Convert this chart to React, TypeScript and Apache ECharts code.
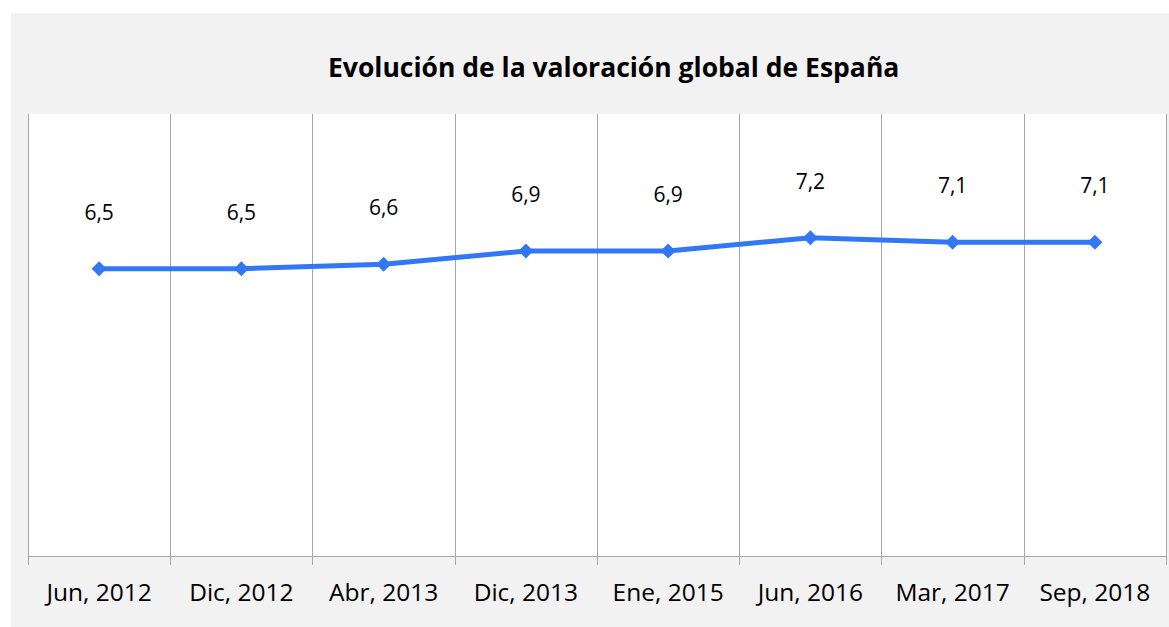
import React, { useEffect, useRef } from "react";
import * as echarts from "echarts";

const categories = ["Jun, 2012", "Dic, 2012", "Abr, 2013", "Dic, 2013", "Ene, 2015", "Jun, 2016", "Mar, 2017", "Sep, 2018"];
const values = [6.5, 6.5, 6.6, 6.9, 6.9, 7.2, 7.1, 7.1];
const titleText = "Evolución de la valoración global de España";

const FONT = "'Open Sans', sans-serif";

export default function App() {
  const ref = useRef<HTMLDivElement>(null);
  useEffect(() => {
    if (!ref.current) return;
    const chart = echarts.init(ref.current, undefined, { renderer: "svg" });
    chart.setOption({
      animation: false,
      backgroundColor: "#ffffff",
      graphic: [
        {
          type: "rect",
          z: -10,
          silent: true,
          shape: { x: 11, y: 13, width: 1158, height: 614 },
          style: { fill: "#f2f2f2" },
        },
      ],
      title: {
        text: titleText,
        left: 323,
        top: 48,
        textStyle: { fontFamily: FONT, fontWeight: "bold", fontSize: 26.5, color: "#000" },
      },
      grid: {
        left: 28,
        right: 3,
        top: 114,
        bottom: 71,
        show: true,
        backgroundColor: "#ffffff",
        borderWidth: 0,
      },
      xAxis: {
        type: "category",
        data: categories,
        boundaryGap: true,
        axisLine: { show: true, lineStyle: { color: "#a6a6a6", width: 1 } },
        axisTick: { show: true, alignWithLabel: false, interval: 0, length: 9, lineStyle: { color: "#a6a6a6" } },
        splitLine: { show: true, interval: 0, lineStyle: { color: "#a6a6a6", width: 1 } },
        axisLabel: { interval: 0, color: "#000", fontFamily: FONT, fontSize: 24.5, margin: 23 },
      },
      yAxis: {
        type: "value",
        min: 0,
        max: 10,
        show: false,
        splitLine: { show: false },
      },
      series: [
        {
          type: "line",
          data: values,
          symbol: "diamond",
          symbolSize: 15,
          lineStyle: { color: "#3377f5", width: 5 },
          itemStyle: { color: "#3377f5" },
          label: {
            show: true,
            position: "top",
            distance: 39,
            color: "#000",
            fontFamily: FONT,
            fontSize: 21,
            formatter: (p: any) => String(p.value).replace(".", ","),
          },
        },
      ],
    });
    return () => chart.dispose();
  }, []);
  return (
    <div
      ref={ref}
      style={{ position: "fixed", left: 0, top: 0, width: 1169, height: 627 }}
    />
  );
}
